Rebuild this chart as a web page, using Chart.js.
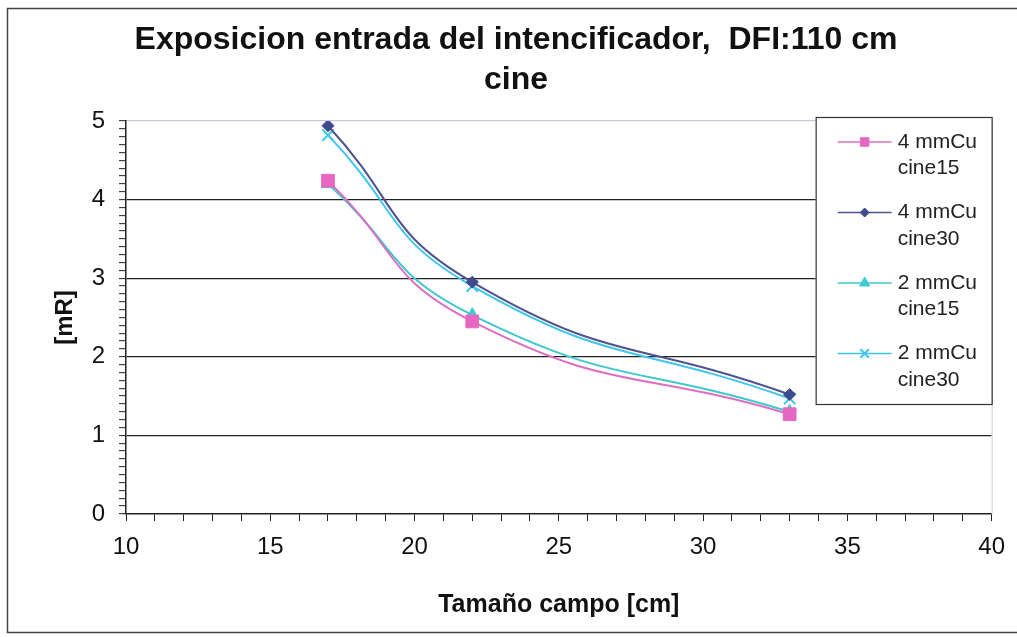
<!DOCTYPE html>
<html lang="es">
<head>
    <meta charset="UTF-8">
    <title>Exposicion entrada del intencificador</title>
    <script src="https://cdn.jsdelivr.net/npm/chart.js"></script>
    <style>
        body { margin: 0; background: #fff; }
        #wrap { width: 1017px; height: 637px; position: relative; }
    </style>
</head>
<body>
    <div id="wrap">
        <canvas id="myChart" width="1017" height="637"></canvas>
    </div>
    <script>
        // Datos
        const tamanoCampo = [17, 22, 33];
        const cu4Cine15 = [4.24, 2.45, 1.27];
        const cu4Cine30 = [4.94, 2.95, 1.52];
        const cu2Cine15 = [4.20, 2.53, 1.30];
        const cu2Cine30 = [4.82, 2.90, 1.47];

        const titulo = ['Exposicion entrada del intencificador,  DFI:110 cm', 'cine'];
        const tituloX = 'Tamaño campo [cm]';
        const tituloY = '[mR]';
        const etiquetas = [['4 mmCu', 'cine15'], ['4 mmCu', 'cine30'], ['2 mmCu', 'cine15'], ['2 mmCu', 'cine30']];

        const FONT = "'Liberation Sans', Arial, sans-serif";

        function puntos(valores) {
            return tamanoCampo.map((x, i) => ({ x: x, y: valores[i] }));
        }

        function serie(idx, valores, color, estilo, radio, relleno) {
            return {
                label: etiquetas[idx].join(' '),
                data: puntos(valores),
                borderColor: color,
                backgroundColor: relleno,
                pointBorderColor: estilo === 'crossRot' ? color : relleno,
                pointBackgroundColor: relleno,
                pointStyle: estilo,
                pointRadius: radio,
                pointBorderWidth: estilo === 'crossRot' ? 2 : 1,
                borderWidth: 2,
                tension: 0.5,
                fill: false
            };
        }

        const datasets = [
            serie(0, cu4Cine15, '#de6fc0', 'rect', 9, '#e667c2'),
            serie(1, cu4Cine30, '#4f5390', 'rectRot', 6, '#3f4a8c'),
            serie(2, cu2Cine15, '#3ec9cf', 'triangle', 7.5, '#3fcad3'),
            serie(3, cu2Cine30, '#3fc6ee', 'crossRot', 8, '#3fc6ee')
        ];

        // marco exterior, borde derecho del area y leyenda dentro del grafico
        const extras = {
            id: 'extras',
            beforeDraw(chart) {
                const ctx = chart.ctx;
                ctx.save();
                ctx.strokeStyle = '#444';
                ctx.lineWidth = 1.5;
                ctx.beginPath();
                ctx.moveTo(1017, 8.5);
                ctx.lineTo(7.5, 8.5);
                ctx.lineTo(7.5, 632.5);
                ctx.lineTo(1017, 632.5);
                ctx.stroke();
                ctx.restore();
            },
            afterDraw(chart) {
                const ctx = chart.ctx;
                const a = chart.chartArea;
                ctx.save();
                ctx.strokeStyle = '#cfcfcf';
                ctx.lineWidth = 1;
                ctx.beginPath();
                ctx.moveTo(a.right + 0.5, a.top);
                ctx.lineTo(a.right + 0.5, a.bottom);
                ctx.stroke();

                // leyenda
                const bx = a.right - 176, by = a.top - 4, bw = 176, bh = 287;
                ctx.fillStyle = '#fff';
                ctx.fillRect(bx, by, bw, bh);
                ctx.strokeStyle = '#333';
                ctx.lineWidth = 1.2;
                ctx.strokeRect(bx + 0.5, by + 0.5, bw, bh);
                ctx.font = '21px ' + FONT;
                ctx.textBaseline = 'middle';
                ctx.textAlign = 'left';
                chart.data.datasets.forEach((ds, i) => {
                    const y = by + 25 + i * 70.5;
                    ctx.strokeStyle = ds.borderColor;
                    ctx.lineWidth = 1.5;
                    ctx.beginPath();
                    ctx.moveTo(bx + 22, y);
                    ctx.lineTo(bx + 76, y);
                    ctx.stroke();
                    ctx.fillStyle = ds.pointBackgroundColor;
                    ctx.strokeStyle = ds.pointBorderColor;
                    ctx.lineWidth = ds.pointBorderWidth;
                    Chart.helpers.drawPoint(ctx, {
                        pointStyle: ds.pointStyle,
                        radius: ds.pointStyle === 'rect' ? 6 : (ds.pointStyle === 'rectRot' ? 4.5 : 6),
                        borderWidth: ds.pointBorderWidth,
                        rotation: 0
                    }, bx + 49, y);
                    ctx.fillStyle = '#222';
                    ctx.fillText(etiquetas[i][0], bx + 82, y);
                    ctx.fillText(etiquetas[i][1], bx + 82, y + 26.5);
                });
                ctx.restore();
            }
        };

        const esEntero = v => Math.abs(v - Math.round(v)) < 1e-6;

        const ctx = document.getElementById('myChart').getContext('2d');
        const myChart = new Chart(ctx, {
            type: 'line',
            data: { datasets: datasets },
            plugins: [extras],
            options: {
                responsive: false,
                animation: false,
                layout: { padding: { left: 39, right: 24, top: 0, bottom: 0 } },
                plugins: {
                    legend: { display: false },
                    tooltip: { enabled: false },
                    title: {
                        display: true,
                        text: titulo,
                        color: '#111',
                        font: { family: FONT, size: 32, weight: 'bold', lineHeight: 40 / 32 },
                        padding: { top: 20, bottom: 21 }
                    }
                },
                scales: {
                    x: {
                        type: 'linear',
                        min: 10,
                        max: 40,
                        afterFit: s => { s.height = 123; },
                        ticks: {
                            stepSize: 1,
                            autoSkip: false,
                            maxRotation: 0,
                            padding: 12,
                            color: '#111',
                            font: { family: FONT, size: 24 },
                            callback: v => (v % 5 === 0 ? String(v) : '')
                        },
                        grid: {
                            drawOnChartArea: false,
                            drawTicks: true,
                            tickLength: 7,
                            tickColor: '#222',
                            tickWidth: 1
                        },
                        border: { color: '#222', width: 1.5 },
                        title: {
                            display: true,
                            text: tituloX,
                            color: '#111',
                            font: { family: FONT, size: 25, weight: 'bold', lineHeight: 1.2 },
                            padding: { top: 0, bottom: 17 }
                        }
                    },
                    y: {
                        min: 0,
                        max: 5,
                        afterFit: s => { s.width = 87; },
                        ticks: {
                            stepSize: 0.1,
                            autoSkip: false,
                            maxTicksLimit: 100,
                            padding: 14,
                            color: '#111',
                            font: { family: FONT, size: 24 },
                            callback: v => (esEntero(v) ? String(Math.round(v)) : '')
                        },
                        grid: {
                            drawTicks: true,
                            tickLength: 7,
                            tickColor: '#222',
                            tickWidth: 1,
                            lineWidth: 1.3,
                            color: c => {
                                const v = c.tick.value;
                                if (!esEntero(v) || Math.round(v) === 0) return 'rgba(0,0,0,0)';
                                return Math.round(v) === 5 ? '#c8c8d8' : '#222';
                            }
                        },
                        border: { color: '#222', width: 1.5 },
                        title: {
                            display: true,
                            text: tituloY,
                            color: '#111',
                            font: { family: FONT, size: 24, weight: 'bold', lineHeight: 1.2 },
                            padding: { top: 12, bottom: 0 }
                        }
                    }
                }
            }
        });
    </script>
</body>
</html>
